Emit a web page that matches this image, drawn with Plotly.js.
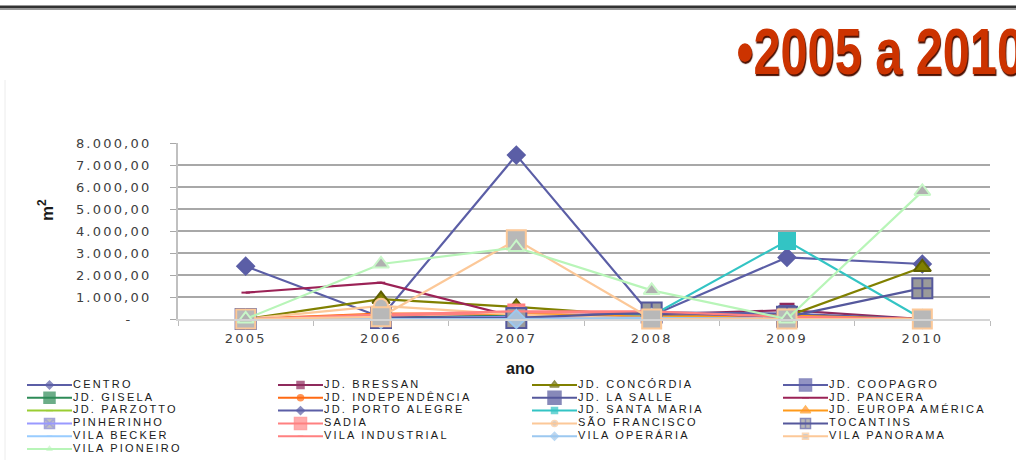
<!DOCTYPE html>
<html><head><meta charset="utf-8">
<script src="https://cdn.plot.ly/plotly-3.0.1.min.js"></script>
<style>
html,body{margin:0;padding:0;background:#fff;}
#chart{width:1016px;height:462px;}
.xtick text,.ytick text{letter-spacing:2.2px;}
.textpoint text{letter-spacing:2.2px;}
.gtitle{transform-box:view-box;transform-origin:738px 0px;transform:scaleX(0.76);}
</style></head><body><div id="chart"></div>
<script>
// ---- data ----
const years = ['2005','2006','2007','2008','2009','2010'];
const seriesNames = ['CENTRO','JD. BRESSAN','JD. CONCÓRDIA','JD. COOPAGRO','JD. GISELA','JD. INDEPENDÊNCIA','JD. LA SALLE','JD. PANCERA','JD. PARZOTTO','JD. PORTO ALEGRE','JD. SANTA MARIA','JD. EUROPA AMÉRICA','PINHERINHO','SADIA','SÃO FRANCISCO','TOCANTINS','VILA BECKER','VILA INDUSTRIAL','VILA OPERÁRIA','VILA PANORAMA','VILA PIONEIRO'];
const centro        = [2400,   80, 7450,  150, 2800, 2500];
const jdBressan     = [   0,   50,  150,  200,  400,    0];
const jdConcordia   = [   0,  900,  550,  120,  120, 2350];
const jdCoopagro    = [   0,    0,  100,  300,  250,    0];
const jdGisela      = [   0,   50,  150,  100,   50,    0];
const jdIndependencia=[   0,  250,  250,  100,   50,    0];
const jdLaSalle     = [   0,    0,   50,  250,  150,    0];
const jdPancera     = [1200, 1650,   80,  100,  100,    0];
const jdParzotto    = [   0,    0,   50,    0,    0,    0];
const jdPortoAlegre = [   0,   50,  100,  100,  150,    0];
const jdSantaMaria  = [   0,    0,  100,  150, 3550,    0];
const jdEuropaAmerica=[   0,  200,  250,  100,  150,    0];
const pinherinho    = [   0,    0,  100,   50,    0,    0];
const sadia         = [   0,  150,  300,  300,  100,    0];
const saoFrancisco  = [   0,  600,  200,    0,   50,    0];
const tocantins     = [   0,   50,   50,  300,  100, 1400];
const vilaBecker    = [   0,    0,    0,    0,    0,    0];
const vilaIndustrial= [   0,  200,  350,  350,  100,    0];
const vilaOperaria  = [   0,    0,    0,   50,    0,    0];
const vilaPanorama  = [   0,  100, 3600,    0,    0,    0];
const vilaPioneiro  = [   0, 2500, 3250, 1300,    0, 5800];
const seriesValues = [centro, jdBressan, jdConcordia, jdCoopagro, jdGisela, jdIndependencia, jdLaSalle, jdPancera, jdParzotto, jdPortoAlegre, jdSantaMaria, jdEuropaAmerica, pinherinho, sadia, saoFrancisco, tocantins, vilaBecker, vilaIndustrial, vilaOperaria, vilaPanorama, vilaPioneiro];
const yTickValues = [0,1000,2000,3000,4000,5000,6000,7000,8000];
const yTickLabels = ['-\u00a0\u00a0\u00a0','1.000,00','2.000,00','3.000,00','4.000,00','5.000,00','6.000,00','7.000,00','8.000,00'];

// ---- styles ----
const styles = [
 {c:'#5b5ea6', s:'diamond',      sz:13, f:'#5b5ea6', lc:'#5b5ea6', lsz:6},
 {c:'#8e2a5c', s:'square',       sz:13, f:'#8e2a5c', lc:'#8e2a5c', lsz:7},
 {c:'#808000', s:'triangle-up',  sz:15, f:'#808000', lc:'#5e5e00', lsz:8},
 {c:'#5b5ea6', s:'square',       sz:15, f:'#6466aa', lc:'#5b5ea6', lsz:12},
 {c:'#2e8b57', s:'square',       sz:12, f:'#2e8b57', lc:'#2e8b57', lsz:11},
 {c:'#ff6a13', s:'circle',       sz:8,  f:'#ff6a13', lc:'#ff6a13', lsz:6},
 {c:'#55589c', s:'square',       sz:15, f:'#55589c', lc:'#55589c', lsz:13},
 {c:'#9b2256', s:'line-ew',      sz:6,  f:'#9b2256', lc:'#9b2256', lsz:5},
 {c:'#9acd32', s:'line-ew',      sz:5,  f:'#9acd32', lc:'#9acd32', lsz:5},
 {c:'#5b5ea6', s:'diamond',      sz:10, f:'#5b5ea6', lc:'#5b5ea6', lsz:6},
 {c:'#33c4c4', s:'square',       sz:16, f:'#33c4c4', lc:'#33c4c4', lsz:6},
 {c:'#ff9a1a', s:'triangle-up',  sz:12, f:'#ff8a55', lc:'#ff9a1a', lsz:9},
 {c:'#9999ff', s:'square-x',     sz:14, f:'#a6a6a6', lc:'#8080c8', lsz:10},
 {c:'#ff8080', s:'square',       sz:16, f:'#ff8a8a', lc:'#ff8080', lsz:12},
 {c:'#fcc898', s:'circle',       sz:14, f:'#b8b8b8', lc:'#fcc898', lsz:6},
 {c:'#55589c', s:'square-cross', sz:20, f:'#9a9a9a', lc:'#55589c', lsz:10},
 {c:'#99ccff', s:'line-ew',      sz:5,  f:'#99ccff', lc:'#99ccff', lsz:4},
 {c:'#ff8080', s:'line-ew',      sz:5,  f:'#ff8080', lc:'#ff8080', lsz:4},
 {c:'#9cc8f0', s:'diamond',      sz:14, f:'#a8c0d8', lc:'#9cc8f0', lsz:6},
 {c:'#fcc898', s:'square',       sz:19, f:'#b8b8b8', lc:'#fcc898', lsz:6},
 {c:'#b8f5b8', s:'triangle-up',  sz:14, f:'#b0b0b0', lc:'#c8f7c8', lsz:5}
];

const W = 1016, H = 462;
const L = 178, R = 990, T = 143, B = 319;

const traces = seriesNames.map((name, i) => ({
  type:'scatter', mode:'lines+markers', name:name,
  x: years, y: seriesValues[i], xaxis:'x', yaxis:'y',
  line:{color:styles[i].c, width:2.2},
  marker:{symbol:styles[i].s, size:styles[i].sz, color:styles[i].f, line:{color:styles[i].lc, width:2}},
  cliponaxis:false, hoverinfo:'skip'
}));

// legend (pixel overlay axes x2/y2)
const colStart = [27, 278, 532, 783];
const rowY0 = 385, rowDY = 12.8, lineLen = 45;
const shapes = [];
const lgX = [], lgY = [], lgSym = [], lgCol = [], lgLine = [], lgSize = [], txX = [], txY = [];
seriesNames.forEach((name, i) => {
  const r = Math.floor(i / 4), c = i % 4;
  const x0 = colStart[c], y = rowY0 + r * rowDY;
  shapes.push({type:'line', xref:'x2', yref:'y2', x0:x0, x1:x0 + lineLen, y0:y, y1:y, line:{color:styles[i].c, width:2}});
  lgX.push(x0 + lineLen / 2); lgY.push(y);
  lgSym.push(styles[i].s); lgCol.push(styles[i].f); lgLine.push(styles[i].lc); lgSize.push(styles[i].lsz);
  txX.push(x0 + lineLen + 1); txY.push(y);
});
traces.push({type:'scatter', mode:'markers', x:lgX, y:lgY, xaxis:'x2', yaxis:'y2',
  marker:{symbol:lgSym, size:lgSize, color:lgCol, line:{color:lgLine, width:1.5}}, cliponaxis:false, hoverinfo:'skip'});
traces.push({type:'scatter', mode:'text', x:txX, y:txY, text:seriesNames, xaxis:'x2', yaxis:'y2',
  textposition:'middle right', textfont:{family:'Liberation Sans, Arial, sans-serif', size:11, color:'#1a1a1a'}, cliponaxis:false, hoverinfo:'skip'});

// header line
shapes.push({type:'line', xref:'x2', yref:'y2', x0:0, x1:W, y0:7, y1:7, line:{color:'#333333', width:3}});
shapes.push({type:'line', xref:'x2', yref:'y2', x0:0, x1:W, y0:9.5, y1:9.5, line:{color:'#9a9a9a', width:1}});
shapes.push({type:'line', xref:'x2', yref:'y2', x0:5, x1:5, y0:80, y1:460, line:{color:'#ececec', width:1}});

const layout = {
  width: W, height: H, margin:{l:0, r:0, t:0, b:0},
  paper_bgcolor:'#ffffff', plot_bgcolor:'rgba(0,0,0,0)', showlegend:false,
  title:{text:'•2005 a 2010', x:736/W, xanchor:'left', xref:'paper', y:1 - 52/H, yanchor:'middle', yref:'paper',
    font:{family:'Liberation Sans, Arial, sans-serif', size:64, weight:700, color:'#cc3300', shadow:'1px 1px 1px #4a0f00'}},
  xaxis:{domain:[L/W, R/W], type:'category', categoryorder:'array', categoryarray:years, range:[-0.5, 5.5],
    tickson:'boundaries', ticks:'outside', ticklen:5, tickcolor:'#bcbcbc', tickwidth:1,
    showline:true, linecolor:'#d4d4d4', linewidth:1.5, showgrid:false, zeroline:false,
    tickfont:{family:'DejaVu Sans, sans-serif', size:13, color:'#404040'}, ticklabelstandoff:7, fixedrange:true},
  yaxis:{domain:[(H - B)/H, (H - T)/H], range:[0, 8000], tickmode:'array', tickvals:yTickValues, ticktext:yTickLabels,
    showgrid:true, gridcolor:'#a8a8a8', gridwidth:1.3, ticks:'outside', ticklen:6, tickcolor:'#a8a8a8',
    showline:true, linecolor:'#c0c0c0', linewidth:2, zeroline:false, ticklabelstandoff:16,
    tickfont:{family:'DejaVu Sans, sans-serif', size:13, color:'#404040'}, fixedrange:true},
  xaxis2:{domain:[0,1], range:[0, W], visible:false, anchor:'y2', fixedrange:true},
  yaxis2:{domain:[0,1], range:[H, 0], visible:false, anchor:'x2', fixedrange:true},
  shapes: shapes,
  annotations:[
    {xref:'x2', yref:'y2', x:520, y:368, text:'<b>ano</b>', showarrow:false, xanchor:'center', yanchor:'middle',
      font:{family:'Liberation Sans, Arial, sans-serif', size:16, color:'#1a1a1a'}},
    {xref:'x2', yref:'y2', x:46, y:210, text:'<b>m<sup>2</sup></b>', showarrow:false, textangle:-90, xanchor:'center', yanchor:'middle',
      font:{family:'Liberation Sans, Arial, sans-serif', size:17, color:'#1a1a1a'}}
  ]
};

Plotly.newPlot('chart', traces, layout, {staticPlot:true, displayModeBar:false});
</script></body></html>
